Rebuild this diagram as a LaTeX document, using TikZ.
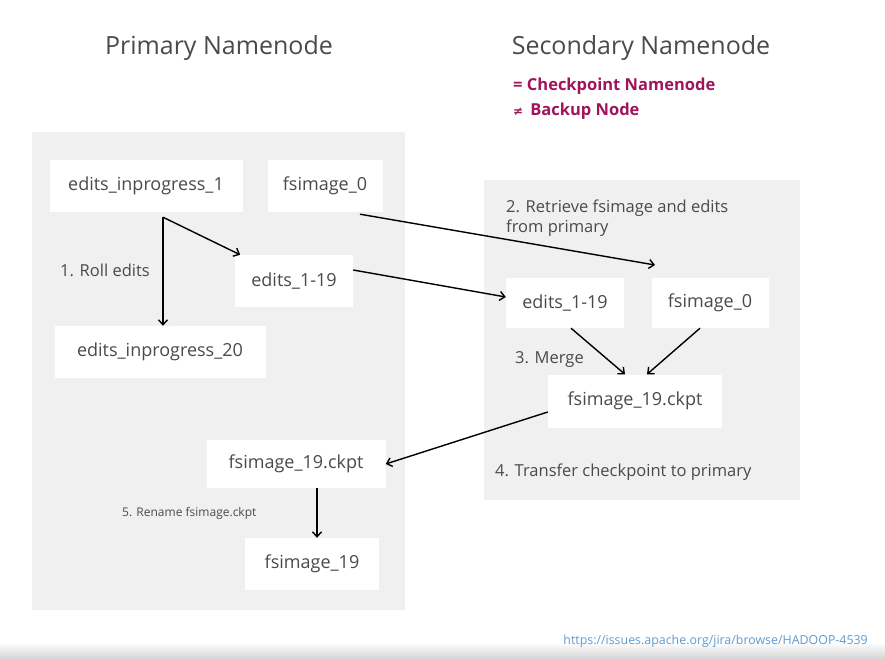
\documentclass[tikz,border=0pt]{standalone}
\usepackage{fontspec}
\setmainfont{Open Sans}
\newfontfamily\symfont{DejaVu Sans}
\usetikzlibrary{positioning,arrows.meta}
\definecolor{panelgray}{HTML}{F0F0F0}
\definecolor{inkgray}{HTML}{4A4A4A}
\definecolor{plum}{HTML}{A0145C}
\definecolor{linkblue}{HTML}{5E9BD0}

\begin{document}
\begin{tikzpicture}[
    x=1pt, y=-1pt,
    file/.style={fill=white, font=\fontsize{18}{22}\selectfont, text=inkgray, inner xsep=10pt, minimum height=52pt},
    steptext/.style={font=\fontsize{16.5}{20}\selectfont, text=inkgray, anchor=base west, align=left, inner sep=0pt},
    title/.style={font=\fontsize{25}{30}\selectfont, text=inkgray},
    plumtext/.style={font=\fontsize{16.5}{20}\selectfont\bfseries, text=plum, anchor=base west, inner sep=0pt},
    flow/.style={-{Straight Barb[length=5pt,width=9pt]}, line width=1.4pt, draw=black}
]
    \useasboundingbox (0,0) rectangle (885,660);

    % Faded strip at the bottom
    \shade[top color=white, bottom color=gray!35] (0,642) rectangle (885,660);

    % Panels
    \fill[panelgray] (32,132) rectangle (405,610);
    \fill[panelgray] (484,180) rectangle (800,500);

    % Titles
    \node[title] (primTitle) at (219,48) {Primary Namenode};
    \node[title] (secTitle) at (641,48) {Secondary Namenode};
    \node[plumtext] (eqNote) at (513,91) {= Checkpoint Namenode};
    \node[plumtext] (neqNote) at (513,116) {{\symfont\fontsize{12}{14}\selectfont ≠}\, Backup Node};

    % Files on the primary
    \node[file, minimum width=193pt] (inprog1) at (146,186) {edits\_inprogress\_1};
    \node[file, minimum width=115pt] (fsimage0L) at (325,186) {fsimage\_0};
    \node[file, minimum width=118pt] (edits19L) at (294,281) {edits\_1-19};
    \node[file, minimum width=211pt] (inprog20) at (160,352) {edits\_inprogress\_20};
    \node[file, minimum width=179pt, minimum height=48pt] (ckptL) at (296,464) {fsimage\_19.ckpt};
    \node[file, minimum width=134pt] (fsimage19) at (312,564) {fsimage\_19};

    % Files on the secondary
    \node[file, minimum width=118pt, minimum height=50pt] (edits19R) at (565,303) {edits\_1-19};
    \node[file, minimum width=117pt, minimum height=50pt] (fsimage0R) at (710,303) {fsimage\_0};
    \node[file, minimum width=174pt, minimum height=53pt] (ckptR) at (635,401) {fsimage\_19.ckpt};

    % Step labels
    \node[steptext] (rollLbl) at (60,276) {1. Roll edits};
    \node[steptext, anchor=north west] (retrieveLbl) at (506,200) {2. Retrieve fsimage and edits\\from primary};
    \node[steptext] (mergeLbl) at (515,363) {3. Merge};
    \node[steptext] (transferLbl) at (495,476) {4. Transfer checkpoint to primary};
    \node[steptext, font=\fontsize{12}{14}\selectfont] (renameLbl) at (122,516) {5. Rename fsimage.ckpt};

    % Arrows
    \coordinate (split) at ([xshift=17pt,yshift=-5pt]inprog1.south);
    \coordinate (retrieveEnd) at (655,265);
    \draw[flow] (split) -- (split |- inprog20.north);
    \draw[flow] (split) -- (edits19L);
    \draw[flow] ([xshift=35pt,yshift=-2pt]fsimage0L.south) -- (retrieveEnd);
    \draw[flow] ([yshift=11pt]edits19L.east) -- ([yshift=6pt]edits19R.west);
    \draw[flow] ([xshift=6pt]edits19R.south) -- ([xshift=-10pt]ckptR.north);
    \draw[flow] ([xshift=-10pt]fsimage0R.south) -- ([xshift=12pt]ckptR.north);
    \draw[flow] ([yshift=-11pt]ckptR.west) -- (ckptL.east);
    \draw[flow] ([xshift=21pt]ckptL.south) -- ([xshift=21pt]ckptL.south |- fsimage19.north);

    % Source link
    \node[font=\fontsize{12.4}{15}\selectfont, text=linkblue, anchor=base east, inner sep=0pt] (srcLink) at (868,644) {https://issues.apache.org/jira/browse/HADOOP-4539};
\end{tikzpicture}
\end{document}
